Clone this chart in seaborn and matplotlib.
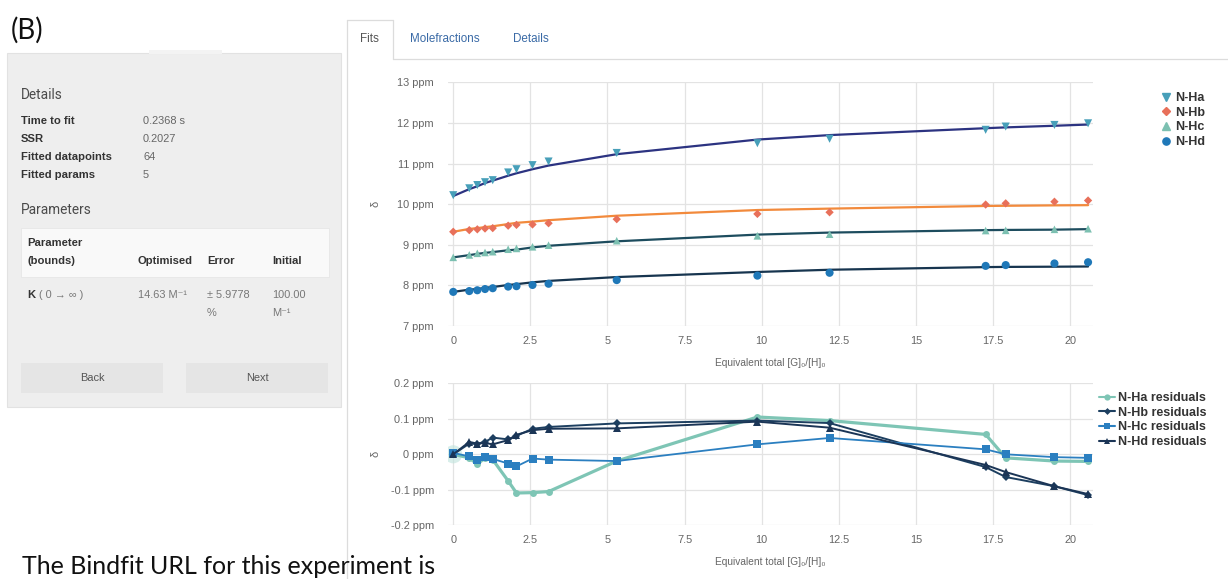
import matplotlib
matplotlib.use("Agg")
import matplotlib.pyplot as plt
import seaborn as sns
import pandas as pd
from matplotlib.lines import Line2D
from matplotlib.patches import Rectangle

# ---------------- data ----------------
x_equiv = [0.0, 0.52, 0.78, 1.03, 1.28, 1.78, 2.05, 2.57, 3.09, 5.30, 9.86, 12.20, 17.26, 17.91, 19.49, 20.58]

nha_obs = [10.22, 10.39, 10.47, 10.54, 10.59, 10.78, 10.86, 10.96, 11.05, 11.26, 11.50, 11.61, 11.83, 11.91, 11.95, 11.99]
nhb_obs = [9.32, 9.36, 9.38, 9.40, 9.41, 9.47, 9.49, 9.50, 9.53, 9.63, 9.76, 9.80, 9.99, 10.02, 10.06, 10.09]
nhc_obs = [8.69, 8.75, 8.79, 8.81, 8.83, 8.89, 8.91, 8.95, 8.99, 9.10, 9.22, 9.26, 9.35, 9.355, 9.38, 9.395]
nhd_obs = [7.84, 7.86, 7.88, 7.91, 7.93, 7.97, 7.98, 8.01, 8.04, 8.13, 8.24, 8.31, 8.48, 8.50, 8.54, 8.57]

nha_fit = [10.20, 10.37, 10.44, 10.52, 10.58, 10.70, 10.76, 10.86, 10.95, 11.23, 11.59, 11.70, 11.87, 11.89, 11.93, 11.96]
nhb_fit = [9.32, 9.39, 9.41, 9.435, 9.455, 9.51, 9.54, 9.57, 9.605, 9.715, 9.855, 9.89, 9.955, 9.96, 9.97, 9.975]
nhc_fit = [8.69, 8.745, 8.775, 8.80, 8.82, 8.865, 8.88, 8.935, 8.975, 9.085, 9.25, 9.30, 9.36, 9.365, 9.372, 9.385]
nhd_fit = [7.84, 7.895, 7.91, 7.94, 7.96, 8.01, 8.03, 8.075, 8.11, 8.205, 8.33, 8.385, 8.45, 8.455, 8.46, 8.465]

nha_res = [0.0, -0.010, -0.028, -0.010, -0.015, -0.075, -0.109, -0.108, -0.105, -0.019, 0.105, 0.095, 0.056, -0.010, -0.019, -0.020]
nhb_res = [0.0, 0.030, 0.030, 0.035, 0.047, 0.042, 0.052, 0.072, 0.077, 0.087, 0.095, 0.088, -0.036, -0.064, -0.090, -0.115]
nhc_res = [0.004, -0.006, -0.017, -0.009, -0.013, -0.026, -0.034, -0.012, -0.015, -0.019, 0.028, 0.046, 0.014, 0.000, -0.008, -0.010]
nhd_res = [0.0, 0.035, 0.030, 0.032, 0.028, 0.040, 0.055, 0.068, 0.072, 0.073, 0.092, 0.075, -0.030, -0.050, -0.090, -0.112]

series_names = ["N-Ha", "N-Hb", "N-Hc", "N-Hd"]
resid_names = ["N-Ha residuals", "N-Hb residuals", "N-Hc residuals", "N-Hd residuals"]
x_ticks = [0, 2.5, 5, 7.5, 10, 12.5, 15, 17.5, 20]
x_tick_labels = ["0", "2.5", "5", "7.5", "10", "12.5", "15", "17.5", "20"]
y_ticks_top = [7, 8, 9, 10, 11, 12, 13]
y_tick_labels_top = ["7 ppm", "8 ppm", "9 ppm", "10 ppm", "11 ppm", "12 ppm", "13 ppm"]
y_ticks_res = [-0.2, -0.1, 0, 0.1, 0.2]
y_tick_labels_res = ["-0.2 ppm", "-0.1 ppm", "0 ppm", "0.1 ppm", "0.2 ppm"]

# ---------------- style ----------------
sns.set_style("white")
plt.rcParams["font.family"] = ["Liberation Sans", "DejaVu Sans"]

W, H = 1228, 579
fig = plt.figure(figsize=(W / 100, H / 100), dpi=100)
fig.patch.set_facecolor("white")


def fx(x):
    return x / W


def fy(y):
    return 1 - y / H


def txt(x, y, s, **kw):
    kw.setdefault("va", "center")
    fig.text(fx(x), fy(y), s, **kw)


def rect(x0, y0, x1, y1, **kw):
    fig.add_artist(Rectangle((fx(x0), fy(y1)), (x1 - x0) / W, (y1 - y0) / H,
                             transform=fig.transFigure, **kw))


def hline(x0, x1, y, **kw):
    fig.add_artist(Line2D([fx(x0), fx(x1)], [fy(y), fy(y)], transform=fig.transFigure, **kw))


def vline(x, y0, y1, **kw):
    fig.add_artist(Line2D([fx(x), fx(x)], [fy(y0), fy(y1)], transform=fig.transFigure, **kw))


# ---------------- left panel ----------------
txt(11, 30, "(B)", fontsize=20, color="#111111", family=["Lato", "DejaVu Sans"])
rect(7, 53, 341, 407, facecolor="#eeeeee", edgecolor="#e2e2e2", lw=0.8)
rect(149, 50, 222, 54, facecolor="#f3f3f3", edgecolor="none")

head_font = ["Roboto", "DejaVu Sans"]
txt(21, 95, "Details", fontsize=9.8, color="#4a4a4a", family=head_font)
rows = [("Time to fit", "0.2368 s", 121), ("SSR", "0.2027", 138.5),
        ("Fitted datapoints", "64", 156.5), ("Fitted params", "5", 174.5)]
for lab, val, yy in rows:
    txt(21, yy, lab, fontsize=8.1, fontweight="bold", color="#333333")
    txt(143, yy, val, fontsize=7.9, color="#666666")
txt(21, 209.5, "Parameters", fontsize=9.8, color="#4a4a4a", family=head_font)

rect(20.5, 228, 328.5, 277, facecolor="#f9f9f9", edgecolor="#e6e6e6", lw=0.6)
txt(27, 243.5, "Parameter", fontsize=8.1, fontweight="bold", color="#333333")
txt(27, 261, "(bounds)", fontsize=8.1, fontweight="bold", color="#333333")
txt(138, 261, "Optimised", fontsize=8.1, fontweight="bold", color="#333333")
txt(207, 261, "Error", fontsize=8.1, fontweight="bold", color="#333333")
txt(272, 261, "Initial", fontsize=8.1, fontweight="bold", color="#333333")
txt(27, 295, "K", fontsize=8.1, fontweight="bold", color="#333333")
txt(39, 295, "( 0 → ∞ )", fontsize=7.9, color="#777777")
txt(138, 295, "14.63 M⁻¹", fontsize=7.9, color="#777777")
txt(207, 295, "± 5.9778", fontsize=7.9, color="#777777")
txt(207, 312.5, "%", fontsize=7.9, color="#777777")
txt(272, 295, "100.00", fontsize=7.9, color="#777777")
txt(272, 312.5, "M⁻¹", fontsize=7.9, color="#777777")

rect(20.5, 363, 162.5, 393, facecolor="#e5e5e5", edgecolor="none")
rect(186, 363, 328, 393, facecolor="#e5e5e5", edgecolor="none")
txt(92, 378, "Back", fontsize=7.9, color="#555555", ha="center")
txt(257, 378, "Next", fontsize=7.9, color="#555555", ha="center")

# ---------------- tabs ----------------
tab_col = "#dcdcdc"
vline(347, 19.5, 579, color=tab_col, lw=0.9)
hline(347, 393, 19.5, color=tab_col, lw=0.9)
vline(393, 19.5, 58.5, color=tab_col, lw=0.9)
hline(393, W, 58.5, color=tab_col, lw=0.9)
txt(360, 39.5, "Fits", fontsize=8.4, color="#555555")
txt(410, 39.5, "Molefractions", fontsize=8.4, color="#3a6aa6")
txt(513, 39.5, "Details", fontsize=8.4, color="#3a6aa6")

# bottom caption (at the lower edge, as in the screenshot)
txt(22, 573.5, "The Bindfit URL for this experiment is", fontsize=18, color="#111111",
    va="baseline", family=["Lato", "DejaVu Sans"])

# ---------------- axes ----------------
ax_l, ax_r = 448, 1093
top_t, top_b = 82.3, 326.0
res_t, res_b = 383.3, 525.3
ax1 = fig.add_axes([fx(ax_l), fy(top_b), (ax_r - ax_l) / W, (top_b - top_t) / H])
ax2 = fig.add_axes([fx(ax_l), fy(res_b), (ax_r - ax_l) / W, (res_b - res_t) / H])

grid_col = "#e3e3e3"
tick_col = "#666666"
for ax in (ax1, ax2):
    ax.set_facecolor("white")
    for s in ax.spines.values():
        s.set_visible(False)
    ax.set_xlim(-0.17, 20.74)
    ax.set_xticks(x_ticks)
    ax.set_xticklabels(x_tick_labels)
    ax.grid(True, color=grid_col, lw=0.9)
    ax.set_axisbelow(True)
    ax.tick_params(axis="both", length=0, labelsize=7.9, labelcolor=tick_col)
    ax.tick_params(axis="y", pad=10)
    ax.tick_params(axis="x", pad=7)

# --- fits plot ---
obs_list = [nha_obs, nhb_obs, nhc_obs, nhd_obs]
fit_list = [nha_fit, nhb_fit, nhc_fit, nhd_fit]
pt_cols = ["#479fb9", "#e8705a", "#7cc0b1", "#1f78b8"]
fit_cols = ["#2c3381", "#f28a3c", "#1d4c5e", "#17354f"]
markers = ["v", "D", "^", "o"]
msizes = [34, 18, 30, 34]

for name, obs, fit, pc, lc, m, ms in zip(series_names, obs_list, fit_list, pt_cols, fit_cols, markers, msizes):
    df = pd.DataFrame({"x": x_equiv, "obs": obs, "fit": fit})
    sns.lineplot(data=df, x="x", y="fit", ax=ax1, color=lc, lw=1.6, sort=False, legend=False)
    sns.scatterplot(data=df, x="x", y="obs", ax=ax1, color=pc, marker=m, s=ms,
                    edgecolor="none", legend=False, zorder=3)

ax1.set_ylim(7, 13)
ax1.set_yticks(y_ticks_top)
ax1.set_yticklabels(y_tick_labels_top)
ax1.set_xlabel("Equivalent total [G]₀/[H]₀", fontsize=7.3, color=tick_col)
ax1.xaxis.set_label_coords(0.5, -0.131)
ax1.set_ylabel("δ", fontsize=8, color=tick_col)
ax1.yaxis.set_label_coords(-0.105, 0.5)

h1 = [Line2D([], [], ls="none", marker=m, color=c, markersize=5.2 if m != "D" else 4)
      for m, c in zip(markers, pt_cols)]
ax1.legend(h1, series_names, loc="upper left", bbox_to_anchor=(fx(1160), fy(92)),
           bbox_transform=fig.transFigure, frameon=False,
           prop={"weight": "bold", "size": 9}, handlelength=0.9, handletextpad=0.35,
           labelspacing=0.22, borderpad=0, borderaxespad=0, labelcolor="#333333")

# --- residuals plot ---
res_list = [nha_res, nhb_res, nhc_res, nhd_res]
res_cols = ["#7ec5b5", "#1d3f60", "#2b7fc0", "#1b3556"]
res_markers = ["o", "D", "s", "^"]
res_ms = [5, 4, 6, 6]
res_lw = [2.3, 1.4, 1.3, 1.4]

df0 = pd.DataFrame({"x": x_equiv[:1], "r": nha_res[:1]})
sns.scatterplot(data=df0, x="x", y="r", ax=ax2, color="#bfe3dc", s=170, alpha=0.6,
                edgecolor="none", legend=False, zorder=2)
for name, res, c, m, ms, lw in zip(resid_names, res_list, res_cols, res_markers, res_ms, res_lw):
    df = pd.DataFrame({"x": x_equiv, "r": res})
    sns.lineplot(data=df, x="x", y="r", ax=ax2, color=c, lw=lw, marker=m, markersize=ms,
                 markeredgewidth=0, sort=False, legend=False, zorder=3)

ax2.set_ylim(-0.2, 0.2)
ax2.set_yticks(y_ticks_res)
ax2.set_yticklabels(y_tick_labels_res)
ax2.set_xlabel("Equivalent total [G]₀/[H]₀", fontsize=7.3, color=tick_col)
ax2.xaxis.set_label_coords(0.5, -0.223)
ax2.set_ylabel("δ", fontsize=8, color=tick_col)
ax2.yaxis.set_label_coords(-0.105, 0.5)

h2 = [Line2D([], [], color=c, lw=1.5, marker=m, markersize=4.5 if m != "D" else 3.5, markeredgewidth=0)
      for c, m in zip(res_cols, res_markers)]
ax2.legend(h2, resid_names, loc="upper left", bbox_to_anchor=(fx(1099), fy(392)),
           bbox_transform=fig.transFigure, frameon=False,
           prop={"weight": "bold", "size": 9}, handlelength=1.25, handletextpad=0.25,
           labelspacing=0.22, borderpad=0, borderaxespad=0, labelcolor="#333333")

fig.savefig("out.png", dpi=100, facecolor="white")
